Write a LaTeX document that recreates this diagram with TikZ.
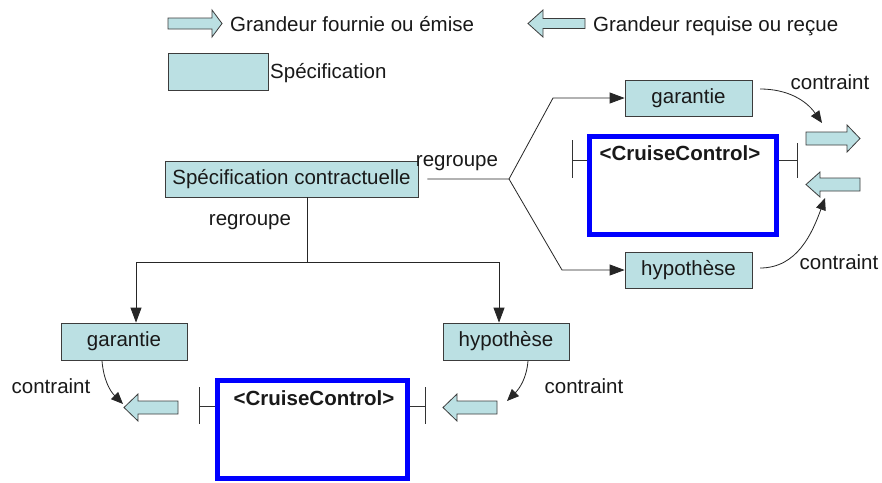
\documentclass[tikz,border=0pt]{standalone}
\usepackage{fontspec}
\setmainfont{Liberation Sans}
\usetikzlibrary{arrows.meta,calc}
\definecolor{specfill}{RGB}{187,224,227}
\definecolor{edgegray}{RGB}{60,60,60}
\definecolor{compblue}{RGB}{0,0,255}
% #1 tail x, #2 head base x, #3 tip x, #4 centre y, #5 half body, #6 half head
\newcommand\blockarrow[6]{\draw[blockarrowstyle] (#1,#4+#5) -- (#2,#4+#5) -- (#2,#4+#6) -- (#3,#4) -- (#2,#4-#6) -- (#2,#4-#5) -- (#1,#4-#5) -- cycle;}
\begin{document}
\begin{tikzpicture}[x=1pt,y=1pt,
 every node/.style={font=\fontsize{20.5}{24}\selectfont, text=black!90},
 specbox/.style={draw=edgegray, fill=specfill, line width=0.8pt, minimum height=36pt, inner sep=0pt},
 compbox/.style={draw=compblue, line width=5pt, minimum width=187pt, minimum height=98pt, inner sep=0pt},
 cctitle/.style={font=\fontsize{20.5}{24}\selectfont\bfseries, inner sep=0pt, anchor=base},
 lbl/.style={inner sep=0pt},
 conn/.style={draw=black!85, line width=0.8pt},
 arr/.style={conn, -{Triangle[length=15pt,width=11pt]}},
 carr/.style={conn, -{Triangle[length=12pt,width=10pt]}},
 blockarrowstyle/.style={draw=edgegray, fill=specfill, line width=0.8pt, line join=miter},
 port/.style={draw=black!80, line width=0.8pt}]
\fill[white] (0,0) rectangle (882,-482);
\useasboundingbox (0,0) rectangle (882,-482);

% legend
\blockarrow{168}{212}{222}{-23.5}{5.5}{13.5}
\node[lbl, anchor=base west] (legout) at (230,-31) {Grandeur fournie ou émise};
\blockarrow{585}{543}{528}{-23.5}{5}{13.5}
\node[lbl, anchor=base west] (legin) at (593,-31) {Grandeur requise ou reçue};
\node[specbox, minimum width=100pt, minimum height=37pt] (legspec) at (218,-71.5) {};
\node[lbl, anchor=base west] (legspect) at (270,-78) {Spécification};

% specification boxes
\node[specbox, minimum width=253pt] (main) at (291.5,-179) {Spécification contractuelle};
\node[specbox, minimum width=127pt] (g1) at (688.5,-98) {garantie};
\node[specbox, minimum width=127pt] (h1) at (688.5,-270) {hypothèse};
\node[specbox, minimum width=126pt, minimum height=37pt] (g2) at (124,-341.5) {garantie};
\node[specbox, minimum width=126pt, minimum height=37pt] (h2) at (506,-341.5) {hypothèse};

% components
\node[compbox] (cc1) at (683,-185.5) {};
\node[cctitle] (cc1t) at (680,-160) {<CruiseControl>};
\node[compbox, minimum width=190pt] (cc2) at (312.5,-429.5) {};
\node[cctitle] (cc2t) at (314,-405) {<CruiseControl>};

% ports
\coordinate (p1a) at ($(cc1.north west)+(0,-26)$);
\coordinate (p1b) at ($(p1a)+(-15,0)$);
\draw[port] (p1a) -- (p1b) ($(p1b)+(0,20)$) -- ($(p1b)+(0,-18)$);
\coordinate (p2a) at ($(cc1.north east)+(0,-26)$);
\coordinate (p2b) at ($(p2a)+(18,0)$);
\draw[port] (p2a) -- (p2b) ($(p2b)+(0,17)$) -- ($(p2b)+(0,-18)$);
\coordinate (p3a) at ($(cc2.north west)+(0,-28)$);
\coordinate (p3b) at ($(p3a)+(-16,0)$);
\draw[port] (p3a) -- (p3b) ($(p3b)+(0,19)$) -- ($(p3b)+(0,-18)$);
\coordinate (p4a) at ($(cc2.north east)+(0,-28)$);
\coordinate (p4b) at ($(p4a)+(15,0)$);
\draw[port] (p4a) -- (p4b) ($(p4b)+(0,19)$) -- ($(p4b)+(0,-18)$);

% upper tree
\coordinate (b1) at (509,-179);
\coordinate (k1) at (553,-98);
\coordinate (k2) at (562,-270);
\draw[arr, shorten <=9pt] (main.east) -- (b1) -- (k1) -- (g1.west);
\draw[arr] (b1) -- (k2) -- (h1.west);
\node[lbl] (rg1) at (457,-163) {regroupe};

% lower tree
\coordinate (j1) at (307,-262);
\coordinate (jl) at (136,-262);
\coordinate (jr) at (499,-262);
\draw[conn] (main.south -| j1) -- (j1);
\draw[arr] (j1) -- (jl) -- (jl |- g2.north);
\draw[arr] (j1) -- (jr) -- (jr |- h2.north);
\node[lbl] (rg2) at (250,-222) {regroupe};

% flow block arrows
\blockarrow{806}{847}{860}{-138.5}{6.5}{13.5}
\blockarrow{860}{820}{806}{-184.5}{6.5}{12.5}
\blockarrow{178}{138}{124}{-407.5}{6.5}{13.5}
\blockarrow{497}{457}{443}{-407.5}{6.5}{13.5}

% constraints
\coordinate (s1) at (760,-89);
\coordinate (t1) at (822,-123);
\coordinate (s2) at (760,-268);
\coordinate (t2) at (825,-198);
\coordinate (s3) at (102,-361);
\coordinate (t3) at (123,-404);
\coordinate (s4) at (528,-361);
\coordinate (t4) at (507,-401);
\draw[carr] (s1) to[out=0,in=125] (t1);
\draw[carr] (s2) to[out=0,in=-110] (t2);
\draw[carr] (s3) to[out=-85,in=135] (t3);
\draw[carr] (s4) to[out=-95,in=45] (t4);
\node[lbl] (c1) at (830,-82) {contraint};
\node[lbl] (c2) at (839,-262) {contraint};
\node[lbl] (c3) at (51,-386) {contraint};
\node[lbl] (c4) at (584,-386) {contraint};
\end{tikzpicture}
\end{document}
